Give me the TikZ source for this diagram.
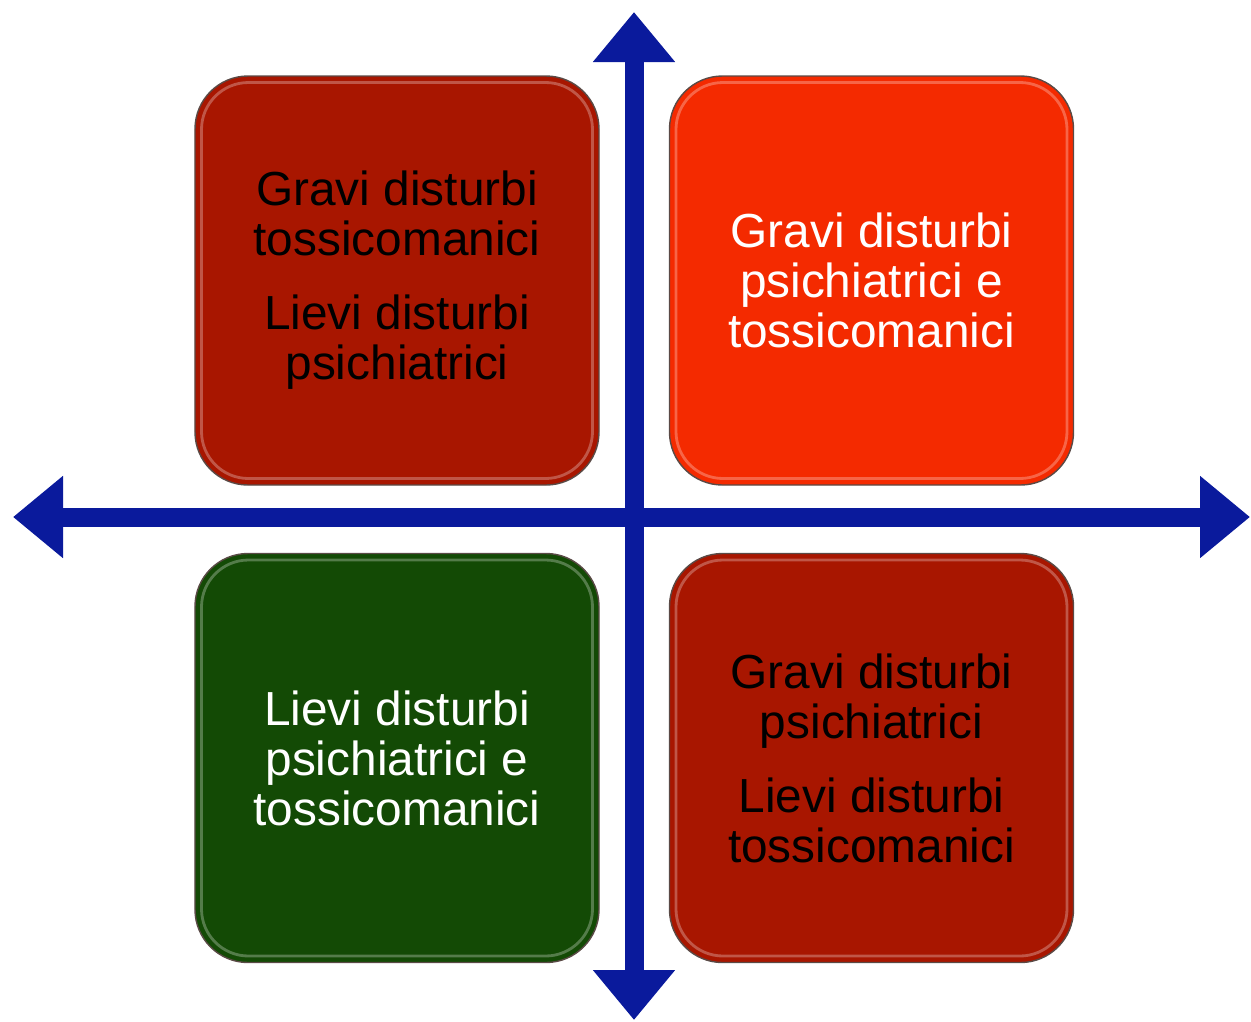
\documentclass[tikz,border=0pt]{standalone}
\usepackage{fontspec}
\setmainfont{Liberation Sans}
\usepackage{xcolor}
\usepackage{tikz}
\usetikzlibrary{arrows.meta}
\definecolor{axisblue}{HTML}{0A1A9C}
\definecolor{darkred}{HTML}{A81600}
\definecolor{brightred}{HTML}{F42A00}
\definecolor{darkgreen}{HTML}{134A05}
\definecolor{rimgray}{HTML}{5A4A46}

\begin{document}
\begin{tikzpicture}[
      x=0.2mm, y=-0.2mm,
      ax/.style={axisblue, line width=3.8mm,
        {Triangle[length=10mm, width=15.8mm]}-{Triangle[length=10mm, width=15.8mm]}},
      quad/.style={draw=rimgray, line width=0.8pt, rounded corners=10.6mm,
        minimum width=80.8mm, minimum height=81.8mm, align=center,
        font=\fontsize{27.2}{28.45}\selectfont,
        path picture={\draw[white, draw opacity=0.28, line width=1.6pt, rounded corners=9.4mm]
          ([shift={(1.3mm,-1.3mm)}]path picture bounding box.north west) rectangle
          ([shift={(-1.3mm,1.3mm)}]path picture bounding box.south east);}}]
    \useasboundingbox (0,0) rectangle (1251,1021);
    \node[quad, fill=darkred, text=black] (tl) at (397,280.5)
      {Gravi disturbi\\tossicomanici\\[4.8mm]Lievi disturbi\\psichiatrici};
    \node[quad, fill=brightred, text=white] (tr) at (871.5,280.5)
      {Gravi disturbi\\psichiatrici e\\tossicomanici};
    \node[quad, fill=darkgreen, text=white] (bl) at (397,758)
      {Lievi disturbi\\psichiatrici e\\tossicomanici};
    \node[quad, fill=darkred, text=black] (br) at (871.5,758)
      {Gravi disturbi\\psichiatrici\\[4.8mm]Lievi disturbi\\tossicomanici};
    % axes
    \coordinate (up) at (634,12);
    \coordinate (down) at (634,1020);
    \coordinate (left) at (13,517);
    \coordinate (right) at (1250,517);
    \draw[ax] (down) -- (up);
    \draw[ax] (left) -- (right);
  \end{tikzpicture}
\end{document}
